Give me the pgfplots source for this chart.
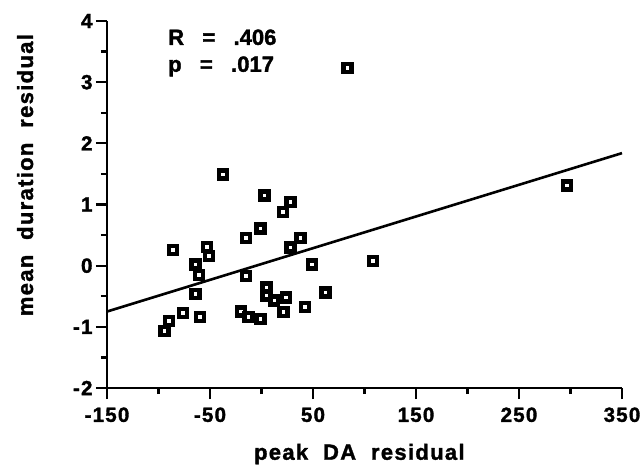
\documentclass[border=0pt]{standalone}
\usepackage{fontspec}
\setmainfont{Liberation Sans}[BoldFeatures={FakeBold=1.6}]
\usepackage{pgfplots}
\pgfplotsset{compat=1.18}
\usetikzlibrary{calc}

% peak DA residual vs mean duration residual
\pgfplotstableread{
x y
-37.5 1.49
3 1.15
28 1.04
21 0.88
-1 0.61
-15 0.45
-86 0.26
-53 0.31
-51 0.16
38 0.45
28 0.30
49 0.02
108 0.08
-64 0.02
-60.5 -0.15
-15 -0.17
-64 -0.46
5 -0.36
5 -0.49
12 -0.57
24 -0.52
62 -0.44
42 -0.68
21.5 -0.76
-20 -0.75
-12.5 -0.84
-1 -0.87
-60 -0.84
-76 -0.77
-90 -0.90
-94 -1.07
83.5 3.23
296.5 1.31
}\datatable

\newcommand{\lbl}[1]{\addfontfeatures{LetterSpace=6}\bfseries #1}

\begin{document}
\begin{tikzpicture}
\begin{axis}[
    name=ax,
    scale only axis,
    width=515pt, height=367pt,
    xmin=-150, xmax=350, ymin=-2, ymax=4,
    axis x line*=bottom, axis y line*=left,
    axis line style={line width=2.2pt, -},
    xtick={-150,-50,...,350},
    minor xtick={-100,0,...,300},
    ytick={-2,-1,...,4},
    minor ytick={-1.5,-0.5,...,3.5},
    tick align=outside,
    major tick length=11pt,
    minor tick length=6pt,
    every tick/.style={black, line width=2.2pt},
    tick label style={font=\fontsize{20.5}{23}\selectfont\lbl},
    /pgf/number format/assume math mode=true,
    xticklabel style={yshift=-5pt},
    xlabel={\fontsize{22}{25}\selectfont\lbl{peak\ \ DA\ \ residual}},
    ylabel={\fontsize{22}{25}\selectfont\lbl{mean\ \ duration\ \ residual}},
    xlabel style={at={(axis description cs:0.49,-0.18)}, anchor=center},
    ylabel style={at={(axis description cs:-0.159,0.58)}, anchor=center},
    clip=false,
]
\addplot[only marks, mark=square, mark size=4pt,
    mark options={line width=4.4pt, draw=black, fill=white}]
    table[x=x, y=y] {\datatable};
\addplot[black, line width=2.6pt] coordinates {(-150,-0.75) (350,1.84)};
\node[anchor=base west, font=\fontsize{22}{25}\selectfont\bfseries]
    at (axis cs:-94,3.61) {R\ \ \ =\ \ \ .406};
\node[anchor=base west, font=\fontsize{22}{25}\selectfont\bfseries]
    at (axis cs:-94,3.17) {p\ \ \ =\ \ \ .017};
\end{axis}
\pgfresetboundingbox
\useasboundingbox ($(ax.south west)+(-107pt,-78pt)$) rectangle ($(ax.north east)+(20pt,21pt)$);
\end{tikzpicture}
\end{document}
